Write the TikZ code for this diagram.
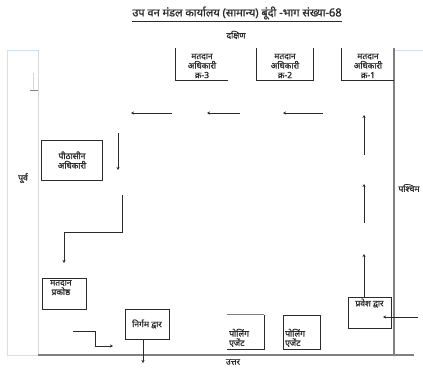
\documentclass[tikz,border=0pt]{standalone}
\usepackage{fontspec}
\newfontfamily\hindi[Script=Devanagari,AutoFakeBold=1.2]{Noto Sans}
\usepackage{tikz}
\usetikzlibrary{arrows.meta,positioning}
\definecolor{Ink}{HTML}{2B2B2B}
\definecolor{Wall}{HTML}{808080}
\definecolor{WallL}{HTML}{CFE0F2}
\definecolor{Faint}{HTML}{D8D8D8}

\begin{document}
\begin{tikzpicture}[x=1pt,y=-1pt,font=\hindi\bfseries\fontsize{8.5}{9.5}\selectfont,
    room/.style={inner sep=0pt,align=center,text=Ink},
    lbl/.style={text=Ink,inner sep=0pt},
    side/.style={draw=Ink,line width=0.7pt},
    wall/.style={draw=Wall,line width=1.4pt},
    flow/.style={->,draw=Ink,line width=0.6pt},
    >={Stealth[length=3pt,width=3pt]}]
  \useasboundingbox (0,0) rectangle (423,369);

  % headings
  \node[lbl,font=\hindi\bfseries\fontsize{11}{12}\selectfont] (title) at (237,14)
    {\underline{उप वन मंडल कार्यालय (सामान्य) बूंदी -भाग संख्या-68}};
  \node[lbl] (south) at (236,35) {दक्षिण};
  \node[lbl] (east) at (23,178) {पूर्व};
  \node[lbl] (west) at (409,188) {पश्चिम};
  \node[lbl] (north) at (233,362) {उत्तर};

  % walls
  \draw[draw=WallL,line width=0.7pt] (7,355) -- (7,50) -- (38,50);
  \draw[draw=Faint,line width=0.5pt] (38,50) -- (38,355);
  \draw[draw=WallL,line width=0.8pt] (7,355) -- (38,355);
  \draw[draw=WallL,line width=0.6pt] (394,50) -- (423,50);
  \draw[wall] (38,355) -- (414,355);
  \draw[wall] (394,48) -- (394,355);
  \draw[draw=Faint,line width=0.5pt] (33,73) -- (33,90);
  \draw[draw=Wall,line width=0.8pt] (30,90) -- (38,90);

  % polling officers
  \node[room,minimum width=52pt,minimum height=28pt] (po3) at (202,66)
    {मतदान\\अधिकारी\\क्र-3};
  \node[room,minimum width=56pt,minimum height=28pt] (po2) at (285,66)
    {मतदान\\अधिकारी\\क्र-2};
  \node[room,minimum width=52pt,minimum height=28pt] (po1) at (368,66)
    {मतदान\\अधिकारी\\क्र-1};
  \draw[side] (po3.south west) ++(0,-32) -- (po3.south west) -- (po3.south east);
  \draw[side] (po2.south west) ++(0,-32) -- (po2.south west) -- (po2.south east) -- ++(0,-32);
  \draw[side] (po1.south west) ++(0,-32) -- (po1.south west) -- (po1.south east);

  % presiding officer, compartment, exit
  \node[room,draw=Ink,line width=0.7pt,minimum width=61pt,minimum height=40pt] (pre) at (72,160)
    {पीठासीन\\अधिकारी};
  \node[draw=Ink,line width=0.7pt,minimum width=44pt,minimum height=31pt] (cell) at (64,293.5) {};
  \node[room,anchor=north west] (celltxt) at (50,280) {मतदान\\प्रकोष्ठ};
  \node[room,draw=Ink,line width=0.7pt,minimum width=44pt,minimum height=30pt] (exit) at (147,324)
    {निर्गम द्वार};

  % agents and entrance
  \node[minimum width=37pt,minimum height=34pt] (ag1) at (245.5,332) {};
  \draw[side,draw=Wall] (ag1.north west) -- (ag1.north east);
  \draw[side] (ag1.north east) -- (ag1.south east) -- (ag1.south west);
  \node[room,align=left,anchor=south west] (ag1txt) at (229,347) {पोलिंग\\एजेंट};
  \node[draw=Ink,line width=0.7pt,minimum width=37pt,minimum height=34pt] (ag2) at (301.5,332) {};
  \node[room,align=left,anchor=south west] (ag2txt) at (285,347) {पोलिंग\\एजेंट};
  \node[draw=Ink,line width=0.7pt,minimum width=43pt,minimum height=31pt] (gate) at (369.5,312.5) {};
  \node[room,anchor=north] (gatetxt) at (369.5,298.5) {प्रवेश द्वार};

  % movement of voters
  \coordinate (in) at (418,317);
  \draw[flow] (in) -- (383,317);
  \draw[flow] (gate.north -| 364,0) -- (364,254);
  \draw[flow] (364,223) -- (364,184);
  \draw[flow] (364,155) -- (364,115);
  \draw[flow] (323,113) -- (283,113);
  \draw[flow] (240,113) -- (207,113);
  \draw[flow] (172,113) -- (131,113);
  \draw[flow] (118,133) -- (118,170);
  \draw[flow] (122,195) -- (122,232) -- (64,232) -- (64,263);
  \draw[flow] (73,331) -- (95,331) -- (95,346) -- (113,346);
  \draw[flow] (143,339) -- (143,363);
\end{tikzpicture}
\end{document}
